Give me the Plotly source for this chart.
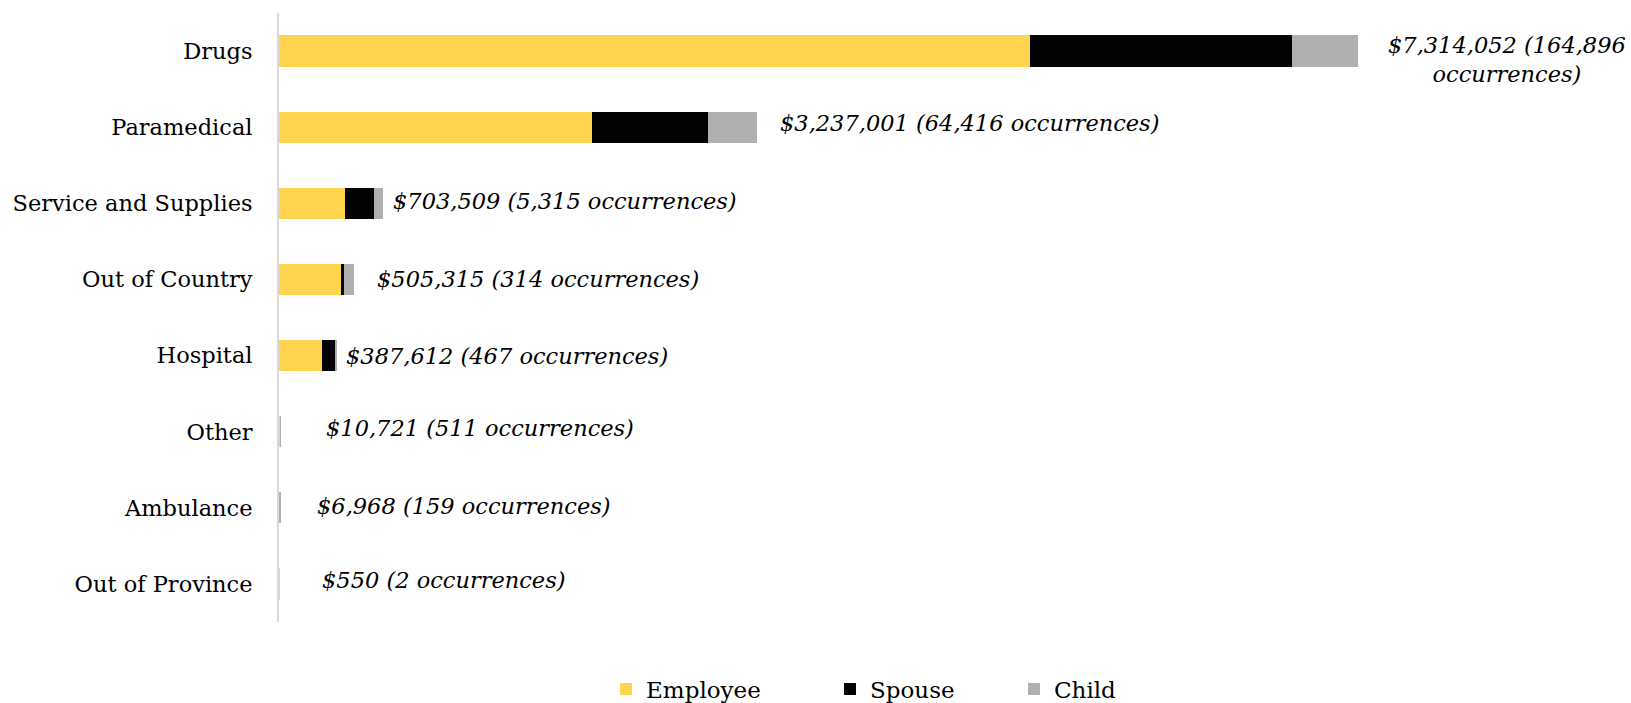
import plotly.graph_objects as go

# Claim categories, top to bottom
categories = ["Drugs", "Paramedical", "Service and Supplies", "Out of Country",
              "Hospital", "Other", "Ambulance", "Out of Province"]

# Claim amounts ($) by member type
employee = [5090000, 2123000, 448000, 420000, 290000, 7000, 5000, 550]
spouse = [1774000, 783000, 199000, 20000, 91000, 2000, 1500, 0]
child = [450052, 331001, 56509, 65315, 6612, 1721, 468, 0]

# Totals and occurrence counts shown beside each bar
totals = [7314052, 3237001, 703509, 505315, 387612, 10721, 6968, 550]
occurrences = [164896, 64416, 5315, 314, 467, 511, 159, 2]

# Label placement tweaks (pixels)
label_xshift = [28, 21, 8, 21, 8, 43, 35, 41]
label_yshift = [-8, 4, 2, 0, 0, 4, 2, 4]

FONT = "DejaVu Serif"

series = [("Employee", employee, "#FFD54F", "legend"),
          ("Spouse", spouse, "#030303", "legend2"),
          ("Child", child, "#AFAFAF", "legend3")]

fig = go.Figure()
for name, vals, color, leg in series:
    fig.add_trace(go.Bar(
        y=categories, x=vals, name=name, orientation="h", legend=leg,
        marker=dict(color=color, line=dict(width=0)),
    ))

for i, cat in enumerate(categories):
    text = f"${totals[i]:,} ({occurrences[i]:,} occurrences)"
    if i == 0:
        text = f"${totals[i]:,} ({occurrences[i]:,}<br>occurrences)"
    fig.add_annotation(
        x=totals[i], y=cat, xref="x", yref="y",
        text=f"<i>{text}</i>", showarrow=False,
        xanchor="left", yanchor="middle", align="center",
        xshift=label_xshift[i], yshift=label_yshift[i],
        font=dict(family=FONT, size=22.5, color="#000000"),
    )


def legend_box(x):
    return dict(
        orientation="h", xref="container", yref="container",
        x=x, y=0.02, xanchor="left", yanchor="middle",
        font=dict(family=FONT, size=23, color="#000000"),
        bgcolor="rgba(0,0,0,0)",
    )


fig.update_layout(
    barmode="stack",
    bargap=0.59,
    width=1631, height=703,
    margin=dict(l=279, r=40, t=13, b=81),
    paper_bgcolor="white", plot_bgcolor="white",
    font=dict(family=FONT, size=23, color="#000000"),
    showlegend=True,
    legend=legend_box(0.3716),
    legend2=legend_box(0.5089),
    legend3=legend_box(0.6217),
    xaxis=dict(range=[0, 8.893e6], showgrid=False, zeroline=False,
               showline=False, showticklabels=False, ticks=""),
    yaxis=dict(categoryorder="array", categoryarray=categories,
               autorange="reversed", showgrid=False, zeroline=False,
               showline=True, linecolor="#D9D9D9", linewidth=2,
               ticks="", ticklabelstandoff=20, automargin=False,
               tickfont=dict(family=FONT, size=22.5, color="#000000")),
)

fig.write_html("out.html")
